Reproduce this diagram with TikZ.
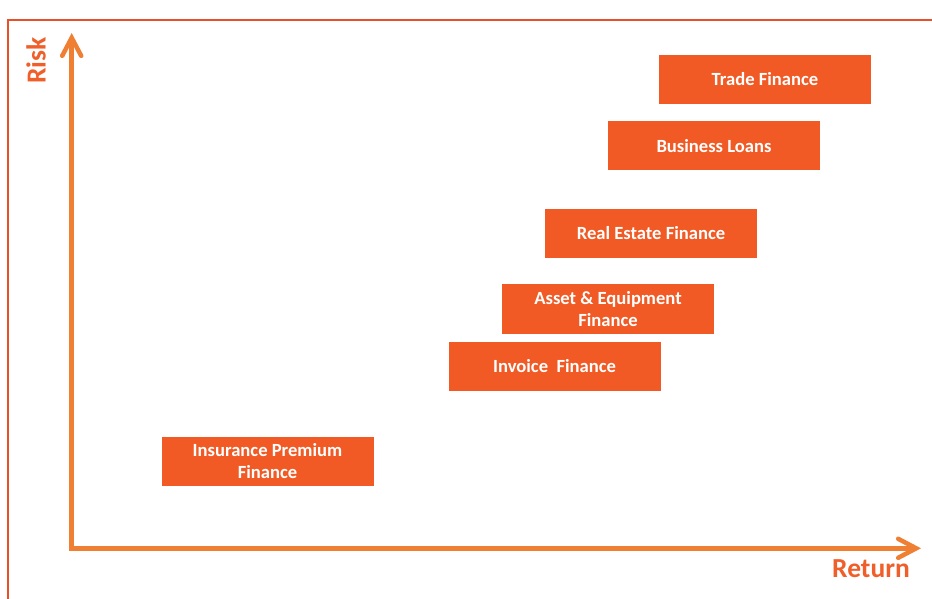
\documentclass[tikz,border=0pt]{standalone}
\usepackage{fontspec}
\setmainfont{Carlito}
\usetikzlibrary{arrows.meta}
\definecolor{boxfill}{HTML}{F15A24}
\definecolor{axiscol}{HTML}{EF7F33}
\definecolor{labelcol}{HTML}{F05F2A}
\definecolor{framecol}{HTML}{E8502A}
\begin{document}
\begin{tikzpicture}[x=1pt,y=-1pt,
  segment/.style={fill=boxfill, draw=none, minimum width=212pt, minimum height=49pt,
    inner sep=0pt, text=white, font=\fontsize{18.6}{22}\selectfont\bfseries, align=center},
  axis/.style={draw=axiscol, line width=4.8pt, line join=miter,
    {Straight Barb[length=18pt,width=19pt,line width=4.5pt,line cap=round]}-{Straight Barb[length=18pt,width=19pt,line width=4.5pt,line cap=round]}},
  axislabel/.style={text=labelcol, font=\fontsize{27.5}{30}\selectfont\bfseries, inner sep=0pt}]
\useasboundingbox (0,0) rectangle (932,599);
% outer frame (only its left and top edges fall inside the page)
\draw[framecol, line width=2.2pt] (8,599) -- (8,20) -- (932,20);
% axes
\coordinate (ytip) at (71.7,33);
\coordinate (origin) at (71.7,548.3);
\coordinate (xtip) at (921,548.3);
\draw[axis] (ytip) -- (origin) -- (xtip);
\node[axislabel, rotate=90] (risk) at (36,60.5) {Risk};
\node[axislabel, anchor=base] (return) at (871,577) {Return};
% finance segments
\node[segment] (trade) at (765,79.5) {Trade Finance};
\node[segment] (business) at (714,146) {Business Loans};
\node[segment] (realestate) at (651,233) {Real Estate Finance};
\node[segment, minimum height=50pt] (asset) at (608,309) {Asset \& Equipment\\Finance};
\node[segment] (invoice) at (554.5,366.5) {Invoice~~Finance};
\node[segment] (insurance) at (267.5,461.5) {Insurance Premium\\Finance};
\end{tikzpicture}
\end{document}
